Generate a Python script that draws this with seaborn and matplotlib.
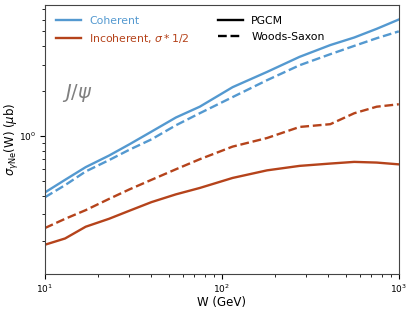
import numpy as np
import pandas as pd
import matplotlib
matplotlib.use("Agg")
import matplotlib.pyplot as plt
import matplotlib.ticker as mticker
import seaborn as sns
from matplotlib.lines import Line2D

# ---------- data ----------
W = [10, 13, 17, 23, 30, 40, 55, 75, 115, 180, 275, 410, 560, 750, 1000]
coh_pgcm = [0.42, 0.51, 0.62, 0.74, 0.88, 1.07, 1.33, 1.57, 2.12, 2.68, 3.38, 4.05, 4.55, 5.2, 6.0]
coh_ws = [0.39, 0.47, 0.58, 0.69, 0.81, 0.95, 1.18, 1.42, 1.82, 2.36, 2.97, 3.52, 4.0, 4.5, 5.0]
inc_pgcm = [0.188, 0.207, 0.248, 0.28, 0.317, 0.362, 0.408, 0.45, 0.525, 0.59, 0.632, 0.655, 0.672, 0.665, 0.647]
inc_ws = [0.243, 0.28, 0.32, 0.38, 0.44, 0.51, 0.60, 0.70, 0.85, 0.97, 1.15, 1.20, 1.42, 1.57, 1.63]
# ---------------------------------------------------

BLUE = "#5499d0"
ORANGE = "#b5431b"

rows = []
for vals, proc, geo in [
    (coh_pgcm, "Coherent", "PGCM"),
    (coh_ws, "Coherent", "Woods-Saxon"),
    (inc_pgcm, "Incoherent", "PGCM"),
    (inc_ws, "Incoherent", "Woods-Saxon"),
]:
    for w, s in zip(W, vals):
        rows.append({"W": w, "sigma": s, "proc": proc, "geo": geo})
df = pd.DataFrame(rows)

fig = plt.figure(figsize=(4.12, 3.12), dpi=100)
ax = fig.add_axes([0.109, 0.122, 0.859, 0.862])

sns.lineplot(data=df, x="W", y="sigma", hue="proc", style="geo",
             palette={"Coherent": BLUE, "Incoherent": ORANGE},
             dashes={"PGCM": "", "Woods-Saxon": (3.7, 1.6)},
             linewidth=1.7, legend=False, ax=ax)

ax.set_xscale("log")
ax.set_yscale("log")
ax.set_xlim(10, 1000)
ax.set_ylim(0.12, 7.5)
for axis in (ax.xaxis, ax.yaxis):
    axis.set_major_locator(mticker.LogLocator(base=10))
    axis.set_minor_locator(mticker.LogLocator(base=10, subs=np.arange(2, 10)))
    axis.set_minor_formatter(mticker.NullFormatter())
ax.set_xlabel("W (GeV)", fontsize=8.5, labelpad=1)
ax.set_ylabel(r"$\sigma_{\gamma\mathrm{Ne}}$(W) ($\mu$b)", fontsize=8.5)
ax.yaxis.set_label_coords(-0.068, 0.5)
ax.tick_params(labelsize=6.5, pad=2.5)
ax.tick_params(which="major", length=3.5, width=0.8)
ax.tick_params(which="minor", length=2.2, width=0.6)
for sp in ax.spines.values():
    sp.set_color("#444444")

ax.text(12.5, 1.8, r"$J/\psi$", fontsize=14, color="#808080")

handles = [
    Line2D([], [], color=BLUE, lw=1.7),
    Line2D([], [], color=ORANGE, lw=1.7),
    Line2D([], [], color="black", lw=1.7),
    Line2D([], [], color="black", lw=1.7, ls=(0, (3.7, 1.6))),
]
labels = ["Coherent", r"Incoherent, $\sigma*1/2$", "PGCM", "Woods-Saxon"]
leg = ax.legend(handles, labels, ncol=2, frameon=False, fontsize=7.8,
                loc="upper left", handlelength=2.3, columnspacing=2.6,
                borderaxespad=0.6, labelspacing=0.55, handletextpad=0.8)
for t, c in zip(leg.get_texts(), [BLUE, ORANGE, "black", "black"]):
    t.set_color(c)

fig.savefig("out.png", dpi=100)
